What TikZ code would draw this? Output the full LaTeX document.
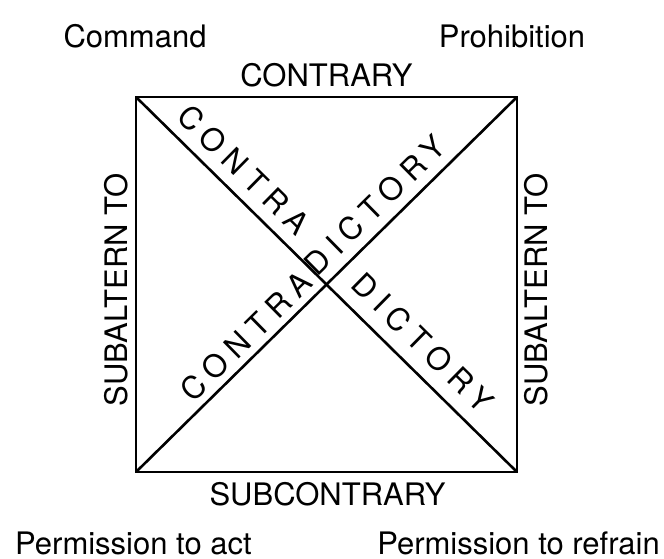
\documentclass[tikz,border=0pt]{standalone}
\usepackage{fontspec}
\setmainfont{TeX Gyre Heros}
\begin{document}
\begin{tikzpicture}[x=1pt,y=1pt,
  lbl/.style={font=\fontsize{31}{36}\selectfont, inner sep=0pt},
  diag/.style={font=\fontsize{31}{36}\selectfont\addfontfeature{LetterSpace=25}, inner sep=0pt},
  edgeline/.style={line width=2.6pt, line join=miter}]
\useasboundingbox (0,0) rectangle (664,558);
% corners of the square
\coordinate (tl) at (136,461);
\coordinate (tr) at (517,461);
\coordinate (bl) at (136,86);
\coordinate (br) at (517,86);
% square and diagonals
\draw[edgeline] (tl) -- (tr) -- (br) -- (bl) -- cycle;
\draw[edgeline] (tl) -- (br);
\draw[edgeline] (bl) -- (tr);
% corner labels
\node[lbl, anchor=base] (command) at (135,510) {Command};
\node[lbl, anchor=base] (prohibition) at (512,510) {Prohibition};
\node[lbl, anchor=base west] (permact) at (15,4) {Permission to act};
\node[lbl, anchor=base east] (permref) at (660,4) {Permission to refrain};
% side labels
\node[lbl, anchor=base] (contrary) at (326.5,471) {CONTRARY};
\node[lbl, anchor=base] (subcontrary) at (327.5,53) {SUBCONTRARY};
\node[lbl, rotate=90] (subl) at (116,268) {SUBALTERN TO};
\node[lbl, rotate=90] (subr) at (536,268) {SUBALTERN TO};
% diagonal labels
\node[diag, rotate=-44.55] (contraTop) at (244,388) {CONTRA};
\node[diag, rotate=44.55] (dictTop) at (375,353) {DICTORY};
\node[diag, rotate=44.55] (contraBot) at (246,222) {CONTRA};
\node[diag, rotate=-44.55] (dictBot) at (423,215) {DICTORY};
\end{tikzpicture}
\end{document}
